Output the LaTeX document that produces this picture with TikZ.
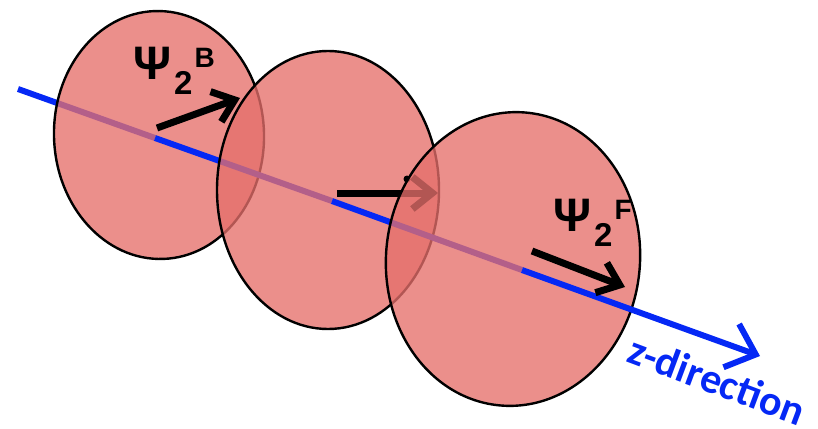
\documentclass[tikz,border=0pt]{standalone}
\usepackage{fontspec}
\setmainfont{Liberation Sans}
\newfontfamily\calib{Carlito}
\usetikzlibrary{arrows.meta,shapes.geometric}
\definecolor{discred}{RGB}{229,111,107}
\definecolor{zblue}{RGB}{5,40,245}
\newcommand{\wavefn}[1]{{\fontsize{47}{47}\selectfont Ψ}\kern3pt\raisebox{-15pt}{\fontsize{33}{33}\selectfont 2}\kern2pt\raisebox{12pt}{\fontsize{28}{28}\selectfont #1}}

\begin{document}
\begin{tikzpicture}[x=1pt,y=-1pt,
 disc/.style={draw,ellipse,line width=2.4pt,fill=discred,fill opacity=0.78,inner sep=0pt},
 zline/.style={draw=zblue,line width=6pt},
 spin/.style={line width=7pt,-{Straight Barb[length=20pt,width=32pt]}},
 lbl/.style={font=\bfseries,anchor=base west,inner sep=0pt}]
\useasboundingbox (0,0) rectangle (818,428);
% points on the z axis
\coordinate (zs) at (18,89);
\coordinate (c1) at (155,138);
\coordinate (c2) at (332,201);
\coordinate (c3) at (522,270);
\coordinate (ze) at (760,356);
% first disc
\draw[zline] (zs) -- (c1);
\node[disc,minimum width=210pt,minimum height=248pt,rotate=2] (d1) at (159,135) {};
\draw[zline] (c1) -- (c2);
\coordinate (a1) at (157,128); \coordinate (b1) at (240,98);
\draw[spin] (a1) -- (b1);
\node[lbl] (psiB) at (133,79) {\wavefn{B}};
% second disc
\node[disc,minimum width=222pt,minimum height=278pt] (d2) at (328,190) {};
\draw[zline] (c2) -- (c3);
\coordinate (a2) at (337,193); \coordinate (b2) at (438,193);
\draw[spin] (a2) -- (b2);
\node[circle,fill,inner sep=0pt,minimum size=7pt] (tick) at (407,179) {};
% third disc
\node[disc,minimum width=254pt,minimum height=294pt,rotate=-5] (d3) at (513,259) {};
\draw[zline,-{Straight Barb[length=26pt,width=46pt]}] (c3) -- (ze);
\coordinate (a3) at (532,251); \coordinate (b3) at (625,287);
\draw[spin] (a3) -- (b3);
\node[lbl] (psiF) at (553,231) {\wavefn{F}};
\node[font=\calib\bfseries\fontsize{42}{42}\selectfont,text=zblue,rotate=-20.5,inner sep=0pt] (zlab) at (717,380) {z-direction};
\end{tikzpicture}
\end{document}
